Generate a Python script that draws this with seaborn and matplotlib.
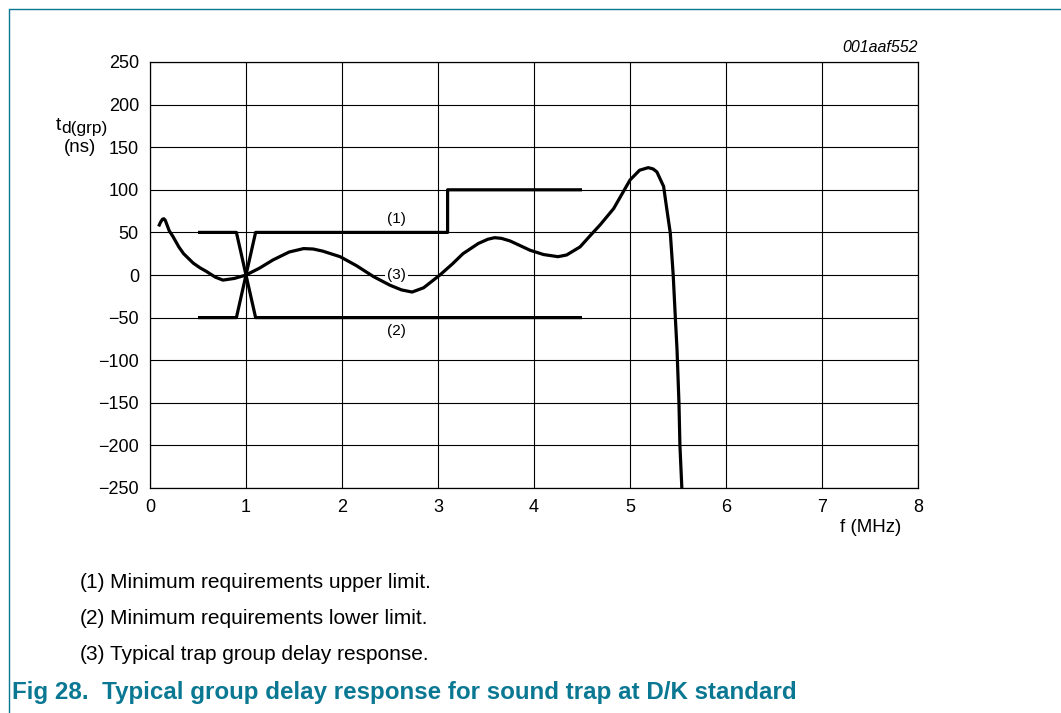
import matplotlib
matplotlib.use("Agg")
import matplotlib.pyplot as plt
import seaborn as sns
import pandas as pd
from matplotlib.lines import Line2D

# ---- data ----
curve_f = [0.09, 0.11, 0.13, 0.145, 0.16, 0.18, 0.20, 0.24, 0.30, 0.35, 0.45, 0.52, 0.59,
           0.68, 0.76, 0.88, 1.00, 1.14, 1.28, 1.45, 1.60, 1.70, 1.80, 1.98, 2.15, 2.33,
           2.50, 2.62, 2.73, 2.85, 3.02, 3.15, 3.26, 3.42, 3.52, 3.59, 3.66, 3.75, 3.96,
           4.10, 4.25, 4.34, 4.48, 4.60, 4.69, 4.83, 5.00, 5.10, 5.19, 5.24, 5.28, 5.35,
           5.38, 5.42, 5.45, 5.47, 5.49, 5.51, 5.52, 5.54]
curve_t = [57, 62, 65.5, 66, 64, 58, 52, 45, 33, 25, 14, 8.5, 4,
           -2.5, -6, -4, 0, 8, 17.6, 27, 31, 30.5, 28, 21.5, 11, -2,
           -12, -17.5, -20, -15, 0, 13, 25, 37, 42, 43.8, 43, 40, 29,
           24, 21.5, 23.5, 33, 48, 59, 78, 111.5, 123, 126, 124.5, 121, 104,
           80, 49, 0, -45, -88, -150, -200, -250]

upper_f = [0.5, 0.9, 1.0, 1.1, 3.1, 3.1, 4.5]
upper_t = [50, 50, 0, 50, 50, 100, 100]
lower_f = [0.5, 0.9, 1.0, 1.1, 4.5]
lower_t = [-50, -50, 0, -50, -50]

x_ticks = [0, 1, 2, 3, 4, 5, 6, 7, 8]
y_ticks = [-250, -200, -150, -100, -50, 0, 50, 100, 150, 200, 250]

notes = ["(1)", "(2)", "(3)"]
note_texts = ["Minimum requirements upper limit.",
              "Minimum requirements lower limit.",
              "Typical trap group delay response."]
caption = "Fig 28.  Typical group delay response for sound trap at D/K standard"

# ---- style ----
sns.set_style("white")
plt.rcParams['font.family'] = ['Liberation Sans', 'DejaVu Sans']
plt.rcParams['mathtext.default'] = 'regular'
plt.rcParams['text.color'] = 'black'

teal = '#0a7893'
fig = plt.figure(figsize=(10.61, 7.13), dpi=100)
ax = fig.add_axes([150/1061, 1-488/713, 768/1061, 426/713])

df_c = pd.DataFrame({"f": curve_f, "t": curve_t})
df_u = pd.DataFrame({"f": upper_f, "t": upper_t})
df_l = pd.DataFrame({"f": lower_f, "t": lower_t})
for d in (df_u, df_l, df_c):
    sns.lineplot(data=d, x="f", y="t", sort=False, estimator=None, ax=ax,
                 color='black', lw=2.3, zorder=3)
for ln in ax.lines:
    ln.set_solid_joinstyle('round')
    ln.set_solid_capstyle('butt')

ax.set_xlim(0, 8)
ax.set_ylim(-250, 250)
ax.set_xticks(x_ticks)
ax.set_yticks(y_ticks)
ax.set_xticklabels([str(v) for v in x_ticks])
ax.set_yticklabels([str(v).replace('-', '\u2212') for v in y_ticks])
ax.tick_params(length=0, labelsize=13, pad=8, colors='black')
ax.grid(True, color='black', lw=0.8)
for s in ax.spines.values():
    s.set_color('black')
    s.set_linewidth(0.9)
ax.set_xlabel("")
ax.set_ylabel("")

ax.text(2.57, 66, "(1)", ha='center', va='center', fontsize=11, zorder=4)
ax.text(2.57, -66, "(2)", ha='center', va='center', fontsize=11, zorder=4)
ax.text(2.57, 0, "(3)", ha='center', va='center', fontsize=11, zorder=2.5,
        bbox=dict(facecolor='white', edgecolor='none', pad=1.5))

# axis labels
fig.text(918/1061, 1-48/713, "001aaf552", ha='right', va='center', fontsize=11.5, style='italic')
fig.text(871/1061, 1-527/713, "f (MHz)", ha='center', va='center', fontsize=13.5)
fig.text(56/1061, 1-125/713, "t", ha='left', va='center', fontsize=14)
fig.text(61.5/1061, 1-128/713, "d(grp)", ha='left', va='center', fontsize=12.5)
fig.text(80/1061, 1-147/713, "(ns)", ha='center', va='center', fontsize=13.5)

# notes
for i, (n, t) in enumerate(zip(notes, note_texts)):
    y = 1 - (582 + i*36)/713
    fig.text(80/1061, y, n, ha='left', va='center', fontsize=15)
    fig.text(110/1061, y, t, ha='left', va='center', fontsize=15)

fig.text(12/1061, 1-692/713, caption, ha='left', va='center', fontsize=17.4,
         fontweight='bold', color=teal)

# frame lines
fig.add_artist(Line2D([8.5/1061, 8.5/1061], [0, 1-8.5/713], transform=fig.transFigure,
                      color=teal, lw=1.0))
fig.add_artist(Line2D([8.5/1061, 1], [1-8.5/713, 1-8.5/713], transform=fig.transFigure,
                      color=teal, lw=1.0))

fig.savefig("out.png", dpi=100)
